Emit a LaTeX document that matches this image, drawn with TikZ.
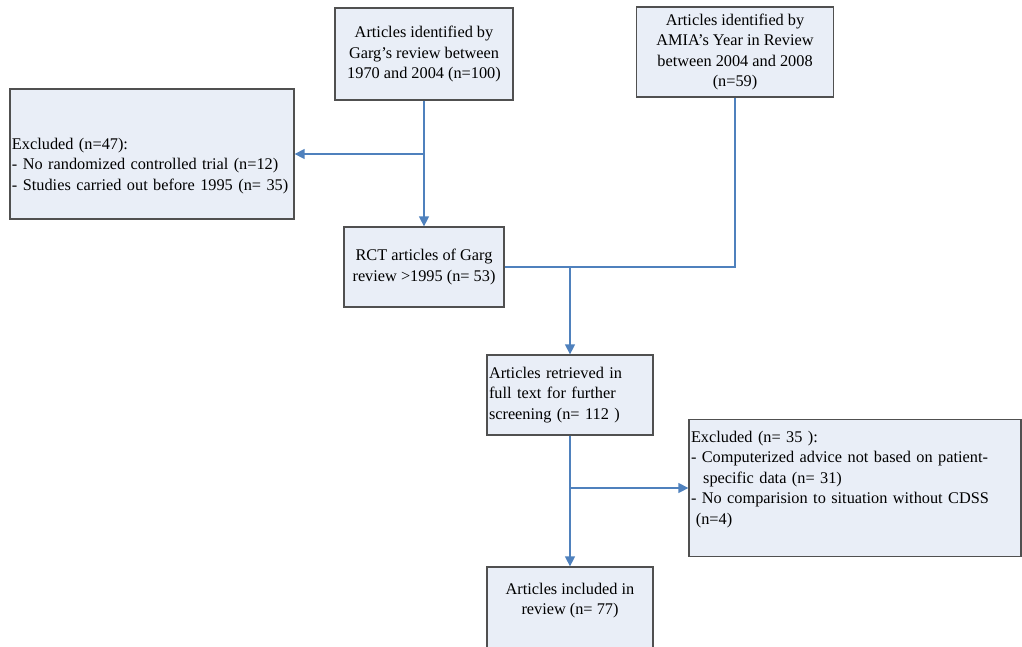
\documentclass[tikz,border=0pt]{standalone}
\usepackage{fontspec}
\setmainfont{Liberation Serif}
\usepackage{xcolor}
\usetikzlibrary{arrows.meta,positioning,calc}
\definecolor{boxbg}{HTML}{E9EEF7}
\definecolor{boxborder}{HTML}{505050}
\definecolor{linkblue}{HTML}{4F81BD}

\begin{document}
\begin{tikzpicture}[
    x=1pt, y=-1pt,
    box/.style={
        rectangle, fill=boxbg, draw=boxborder, line width=1.3pt,
        inner sep=3pt, align=center,
        font=\fontsize{16.3pt}{20.5pt}\selectfont, text=black
    },
    leftbox/.style={
        box, align=left, inner xsep=2pt
    },
    link/.style={
        -{Triangle[length=10pt, width=10pt]}, line width=1.4pt, draw=linkblue
    },
    joint/.style={
        line width=1.4pt, draw=linkblue
    }
]

\useasboundingbox (0,0) rectangle (1022,646);

% ==================== SOURCES ====================
\node[box, minimum width=178pt, minimum height=92pt] (garg) at (424, 54) {Articles identified by\\Garg's review between\\1970 and 2004 (n=100)};
\node[box, minimum width=197pt, minimum height=90pt] (amia) at (735, 52) {Articles identified by\\AMIA's Year in Review\\between 2004 and 2008\\(n=59)};

% ==================== FIRST SCREENING ====================
\node[leftbox, minimum width=284pt, minimum height=130pt, text width=280pt] (excl1) at (152, 154) {\mbox{}\\[14pt]Excluded (n=47):\\- No randomized controlled trial (n=12)\\- Studies carried out before 1995 (n= 35)};
\node[box, minimum width=160pt, minimum height=80pt] (rct) at (424, 267) {RCT articles of Garg\\review >1995 (n= 53)};

% ==================== FULL TEXT ====================
\node[leftbox, minimum width=166pt, minimum height=80pt, text width=162pt] (full) at (570, 395) {Articles retrieved in\\full text for further\\screening (n= 112 )};
\node[leftbox, minimum width=332pt, minimum height=137pt, text width=328pt] (excl2) at (855, 488) {Excluded (n= 35 ):\\- Computerized advice not based on patient-\\\hspace*{0.75em}specific data (n= 31)\\- No comparision to situation without CDSS\\\hspace*{0.3em}(n=4)\\\mbox{}};

% ==================== INCLUDED ====================
\node[box, minimum width=166pt, minimum height=84pt] (incl) at (570, 609) {Articles included in\\review (n= 77)\\\mbox{}};

% ==================== CONNECTORS ====================
\draw[link] (garg.south) -- (rct.north);
\draw[link] (excl1.east -| garg.south) -- (excl1.east);
\draw[joint] (amia.south) |- (rct.east);
\draw[link] (rct.east -| full.north) -- (full.north);
\draw[link] (full.south) -- (incl.north);
\draw[link] (excl2.west -| full.south) -- (excl2.west);

\end{tikzpicture}
\end{document}
